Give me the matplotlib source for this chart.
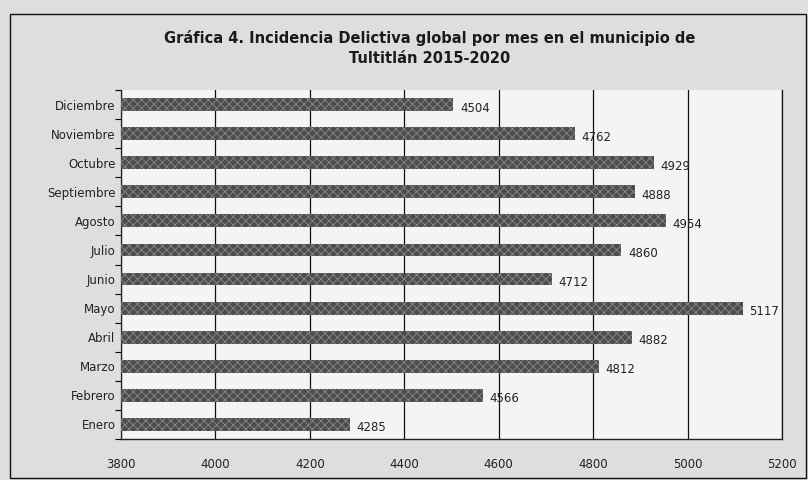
import matplotlib
matplotlib.use("Agg")
import matplotlib.pyplot as plt
from matplotlib.patches import Rectangle

months = ["Enero", "Febrero", "Marzo", "Abril", "Mayo", "Junio", "Julio",
          "Agosto", "Septiembre", "Octubre", "Noviembre", "Diciembre"]
values = [4285, 4566, 4812, 4882, 5117, 4712, 4860, 4954, 4888, 4929, 4762, 4504]
xticks = [3800, 4000, 4200, 4400, 4600, 4800, 5000, 5200]
title = "Gráfica 4. Incidencia Delictiva global por mes en el municipio de\nTultitlán 2015-2020"

plt.rcParams['font.family'] = ['DejaVu Sans']
plt.rcParams['hatch.linewidth'] = 0.6

fig = plt.figure(figsize=(8.08, 4.80), dpi=100)
fig.patch.set_facecolor('#dedede')
ax = fig.add_axes([121/808, 41/480, 661/808, 349/480])
ax.set_facecolor('#f4f4f4')

base = xticks[0]
ypos = list(range(len(months)))
ax.barh(ypos, [v - base for v in values], left=base, height=0.44,
        color='#4d4d4d', edgecolor='#8a8a8a', hatch='xxxx', linewidth=0, zorder=3)

for y, v in zip(ypos, values):
    ax.text(v + 14, y - 0.12, str(v), va='center', ha='left', fontsize=8.5,
            color='#222222', zorder=4)

ax.set_xlim(xticks[0], xticks[-1])
ax.set_ylim(-0.5, len(months) - 0.5)
ax.set_xticks(xticks)
ax.set_xticklabels([str(t) for t in xticks], fontsize=8.5, color='#222222')
ax.set_yticks(ypos)
ax.set_yticklabels(months, fontsize=8.5, color='#222222')
ax.tick_params(axis='y', length=0, pad=4)
ax.set_yticks([y + 0.5 for y in range(-1, len(months))], minor=True)
ax.tick_params(axis='y', which='minor', length=4, width=0.8, direction='out')
ax.tick_params(axis='x', length=0, pad=14)
ax.grid(axis='x', color='#111111', linewidth=0.9, zorder=1)
ax.spines['top'].set_visible(False)
ax.spines['right'].set_color('#111111')
ax.spines['right'].set_linewidth(0.9)
ax.spines['left'].set_color('#222222')
ax.spines['bottom'].set_color('#222222')
ax.spines['left'].set_linewidth(0.9)
ax.spines['bottom'].set_linewidth(1.0)

fig.text(430/808, 1 - 48/480, title, ha='center', va='center', fontsize=10.5,
         fontweight='bold', color='#1a1a1a', linespacing=1.35)

fig.add_artist(Rectangle((10/808, 2/480), 796/808, 464/480, transform=fig.transFigure,
                         fill=False, edgecolor='#111111', linewidth=1.0))

fig.savefig("out.png", dpi=100, facecolor=fig.get_facecolor())
